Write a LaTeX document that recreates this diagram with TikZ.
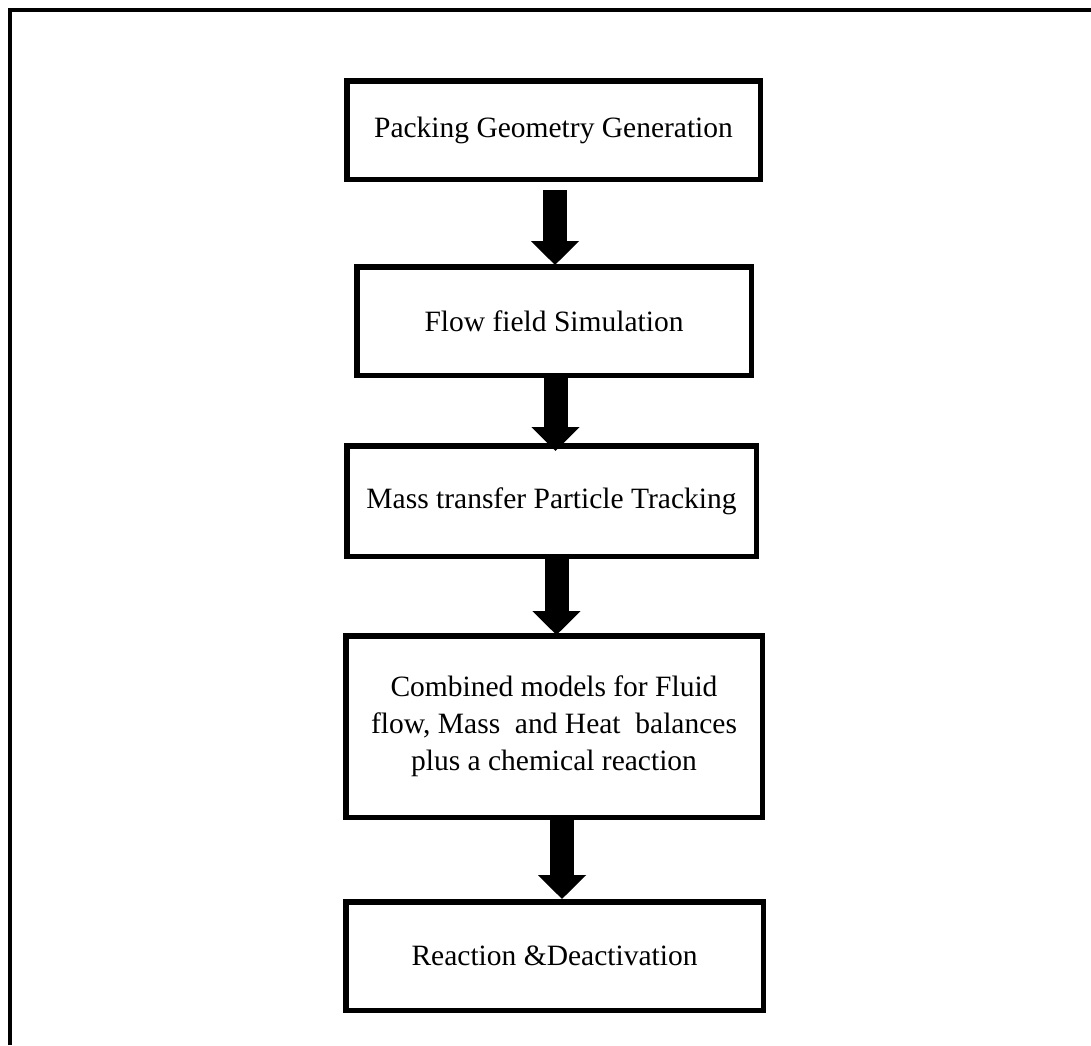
\documentclass[tikz,border=0pt]{standalone}
\usepackage{fontspec}
\setmainfont{Liberation Serif}
\usetikzlibrary{arrows.meta}
\begin{document}
\begin{tikzpicture}[x=1pt,y=-1pt,
  stepbox/.style={draw=black,line width=5.5pt,fill=white,inner sep=0pt,align=center,
    font=\fontsize{29.5}{37}\selectfont},
  flowarrow/.style={line width=24pt,-{Triangle[width=47pt,length=24pt]}},
  frameline/.style={line width=4pt}]
\useasboundingbox (0,0) rectangle (1091,1045);
\draw[frameline] (10,1045) -- (10,10) -- (1091,10);
\node[stepbox,minimum width=413.5pt,minimum height=98.5pt] (b1) at (553.5,130) {Packing Geometry Generation};
\node[stepbox,minimum width=394.5pt,minimum height=108.5pt] (b2) at (554,321) {Flow field Simulation};
\node[stepbox,minimum width=409.5pt,minimum height=110.5pt] (b3) at (551.5,501) {Mass transfer Particle Tracking};
\node[stepbox,minimum width=416.5pt,minimum height=181.5pt] (b4) at (554,726.5) {Combined models for Fluid\\flow, Mass\ \ and Heat\ \ balances\\plus a chemical reaction};
\node[stepbox,minimum width=417.5pt,minimum height=108.5pt] (b5) at (554.5,956) {Reaction \&Deactivation};
\draw[flowarrow] ([xshift=1.5pt,yshift=-8pt]b1.south) -- ([xshift=1.5pt,yshift=-1pt]b1.south |- b2.north);
\draw[flowarrow] ([xshift=1.5pt]b2.south) -- ([xshift=1.5pt,yshift=-8pt]b2.south |- b3.north);
\draw[flowarrow] ([xshift=5pt]b3.south) -- ([xshift=5pt,yshift=-2pt]b3.south |- b4.north);
\draw[flowarrow] ([xshift=8pt]b4.south) -- ([xshift=8pt]b4.south |- b5.north);
\end{tikzpicture}
\end{document}
